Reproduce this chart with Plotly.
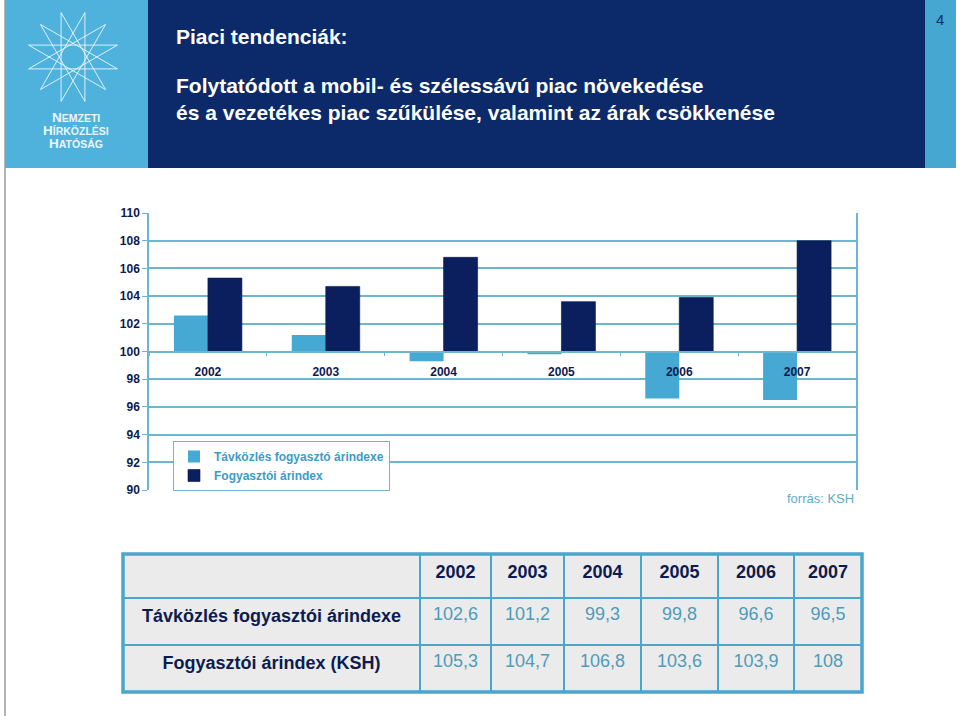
import numpy as np
import plotly.graph_objects as go

# ---- data ----
years = ["2002", "2003", "2004", "2005", "2006", "2007"]
tavkozles = [102.6, 101.2, 99.3, 99.8, 96.6, 96.5]
fogyasztoi = [105.3, 104.7, 106.8, 103.6, 103.9, 108]
series_names = ["Távközlés fogyasztó árindexe", "Fogyasztói árindex"]
row_labels = ["Távközlés fogyasztói árindexe", "Fogyasztói árindex (KSH)"]
base_value = 100
y_ticks = list(range(90, 111, 2))

title = "Piaci tendenciák:"
subtitle = ["Folytatódott a mobil- és szélessávú piac növekedése",
            "és a vezetékes piac szűkülése, valamint az árak csökkenése"]
page_no = "4"
source = "forrás: KSH"

# ---- styling ----
W, H = 960, 716
NAVY = "#0c2a69"
LIGHT = "#45a9d3"
BAR_DARK = "#0b1f5e"
GRID = "#6cb6cf"
TXT_NAVY = "#0d1b4f"
VAL_BLUE = "#4d9cba"
FONT = "Liberation Sans, Arial, sans-serif"

def px(x):
    return x / W

def py(y):
    return 1 - y / H

fig = go.Figure()

fig.add_trace(go.Bar(
    x=years, y=[v - base_value for v in tavkozles], base=base_value,
    name=series_names[0], marker=dict(color=LIGHT, line=dict(width=0)),
))
fig.add_trace(go.Bar(
    x=years, y=[v - base_value for v in fogyasztoi], base=base_value,
    name=series_names[1], marker=dict(color=BAR_DARK, line=dict(width=0.6, color="#071540")),
))

def fmt(v):
    return f"{v:g}".replace(".", ",")

fig.add_trace(go.Table(
    domain=dict(x=[px(123), px(862)], y=[py(692), py(554)]),
    columnwidth=[297, 71, 73, 77, 77, 76, 68],
    header=dict(
        values=[""] + [f"<b>{y}</b>" for y in years],
        fill_color="#ebebeb",
        line=dict(color="#4aa6cc", width=1.5),
        font=dict(family=FONT, size=18, color=TXT_NAVY),
        align="center", height=44,
    ),
    cells=dict(
        values=[[f"<b>{r}</b>" for r in row_labels]] +
               [[fmt(a), fmt(b)] for a, b in zip(tavkozles, fogyasztoi)],
        fill_color="#ebebeb",
        line=dict(color="#4aa6cc", width=1.5),
        font=dict(family=FONT, size=18,
                  color=[TXT_NAVY] + [VAL_BLUE] * len(years)),
        align="center", height=47,
    ),
))

y0d, y1d = py(490), py(213)
pos100 = y0d + (base_value - 90) / (110 - 90) * (y1d - y0d)

shapes = [
    # slide left border
    dict(type="line", xref="paper", yref="paper", x0=px(5), x1=px(5), y0=0, y1=1,
         line=dict(color="#9a9a9a", width=1.5)),
    # logo block
    dict(type="rect", xref="paper", yref="paper", x0=px(5), x1=px(148), y0=py(168), y1=1,
         fillcolor="#4fb2dc", line=dict(width=0), layer="below"),
    # title band
    dict(type="rect", xref="paper", yref="paper", x0=px(148), x1=px(925), y0=py(168), y1=1,
         fillcolor=NAVY, line=dict(width=0), layer="below"),
    # page strip
    dict(type="rect", xref="paper", yref="paper", x0=px(925), x1=px(956), y0=py(168), y1=1,
         fillcolor="#44a8d0", line=dict(width=0), layer="below"),
    # table outer border
    dict(type="rect", xref="paper", yref="paper", x0=px(123), x1=px(862), y0=py(692), y1=py(554),
         line=dict(color="#4aa6cc", width=3.5), layer="above"),
]

# logo star {12/5}
cx, cy, R = 73, 57, 46
n = 12
pts = [(cx + R * np.cos(2 * np.pi * k / n + np.pi / 12), cy + R * np.sin(2 * np.pi * k / n + np.pi / 12)) for k in range(n)]
for k in range(n):
    a = pts[k]
    b = pts[(k + 5) % n]
    shapes.append(dict(type="line", xref="paper", yref="paper",
                       x0=px(a[0]), y0=py(a[1]), x1=px(b[0]), y1=py(b[1]),
                       line=dict(color="rgba(255,255,255,0.8)", width=1)))

annotations = [
    dict(text=f"<b>{title}</b>", x=px(174), y=py(36), xref="paper", yref="paper",
         xanchor="left", yanchor="middle", showarrow=False,
         font=dict(family=FONT, size=21, color="white")),
    dict(text=f"<b>{subtitle[0]}</b>", x=px(174), y=py(86), xref="paper", yref="paper",
         xanchor="left", yanchor="middle", showarrow=False,
         font=dict(family=FONT, size=21, color="white")),
    dict(text=f"<b>{subtitle[1]}</b>", x=px(174), y=py(112), xref="paper", yref="paper",
         xanchor="left", yanchor="middle", showarrow=False,
         font=dict(family=FONT, size=21, color="white")),
    dict(text=page_no, x=px(940), y=py(19), xref="paper", yref="paper",
         xanchor="center", yanchor="middle", showarrow=False,
         font=dict(family=FONT, size=15, color=NAVY)),
    dict(text=source, x=px(856), y=py(498), xref="paper", yref="paper",
         xanchor="right", yanchor="middle", showarrow=False,
         font=dict(family=FONT, size=13, color="#5aaecb")),
]
logo_lines = [("N", "EMZETI", 117), ("H", "ÍRKÖZLÉSI", 130), ("H", "ATÓSÁG", 143)]
for first, rest, yy in logo_lines:
    annotations.append(dict(
        text=f"<b>{first}<span style='font-size:10.5px'>{rest}</span></b>",
        x=px(76), y=py(yy), xref="paper", yref="paper", xanchor="center", yanchor="middle",
        showarrow=False, font=dict(family=FONT, size=13.5, color="#eaf6fb")))

fig.update_layout(
    width=W, height=H, margin=dict(l=0, r=0, t=0, b=0, autoexpand=False),
    paper_bgcolor="white", plot_bgcolor="white",
    barmode="group", bargap=0.423, bargroupgap=0,
    font=dict(family=FONT),
    shapes=shapes, annotations=annotations,
    showlegend=True,
    legend=dict(x=px(173), y=py(441), xanchor="left", yanchor="top",
                bordercolor=GRID, borderwidth=1, bgcolor="white",
                font=dict(family=FONT, size=12, color="#3a9cc8", weight="bold"),
                tracegroupgap=0, itemwidth=30),
    xaxis=dict(domain=[px(149), px(856)], anchor="free", position=pos100, automargin=False,
               type="category", showgrid=False, showline=True, linecolor=GRID, linewidth=1.5,
               ticks="outside", tickson="boundaries", ticklen=4, tickcolor=GRID,
               tickfont=dict(family=FONT, size=12, color=TXT_NAVY, weight="bold"),
               ticklabelstandoff=9, zeroline=False),
    yaxis=dict(domain=[py(490), py(213)], range=[90, 110], tickvals=y_ticks, automargin=False,
               showgrid=True, gridcolor=GRID, gridwidth=1.5,
               showline=True, mirror=True, linecolor=GRID, linewidth=1.5,
               ticks="outside", ticklen=5, tickcolor=GRID, zeroline=False,
               tickfont=dict(family=FONT, size=12, color=TXT_NAVY, weight="bold")),
)

fig.write_html("out.html", config={"displayModeBar": False},
               post_script="document.body.style.margin='0';document.body.style.overflow='hidden';")
